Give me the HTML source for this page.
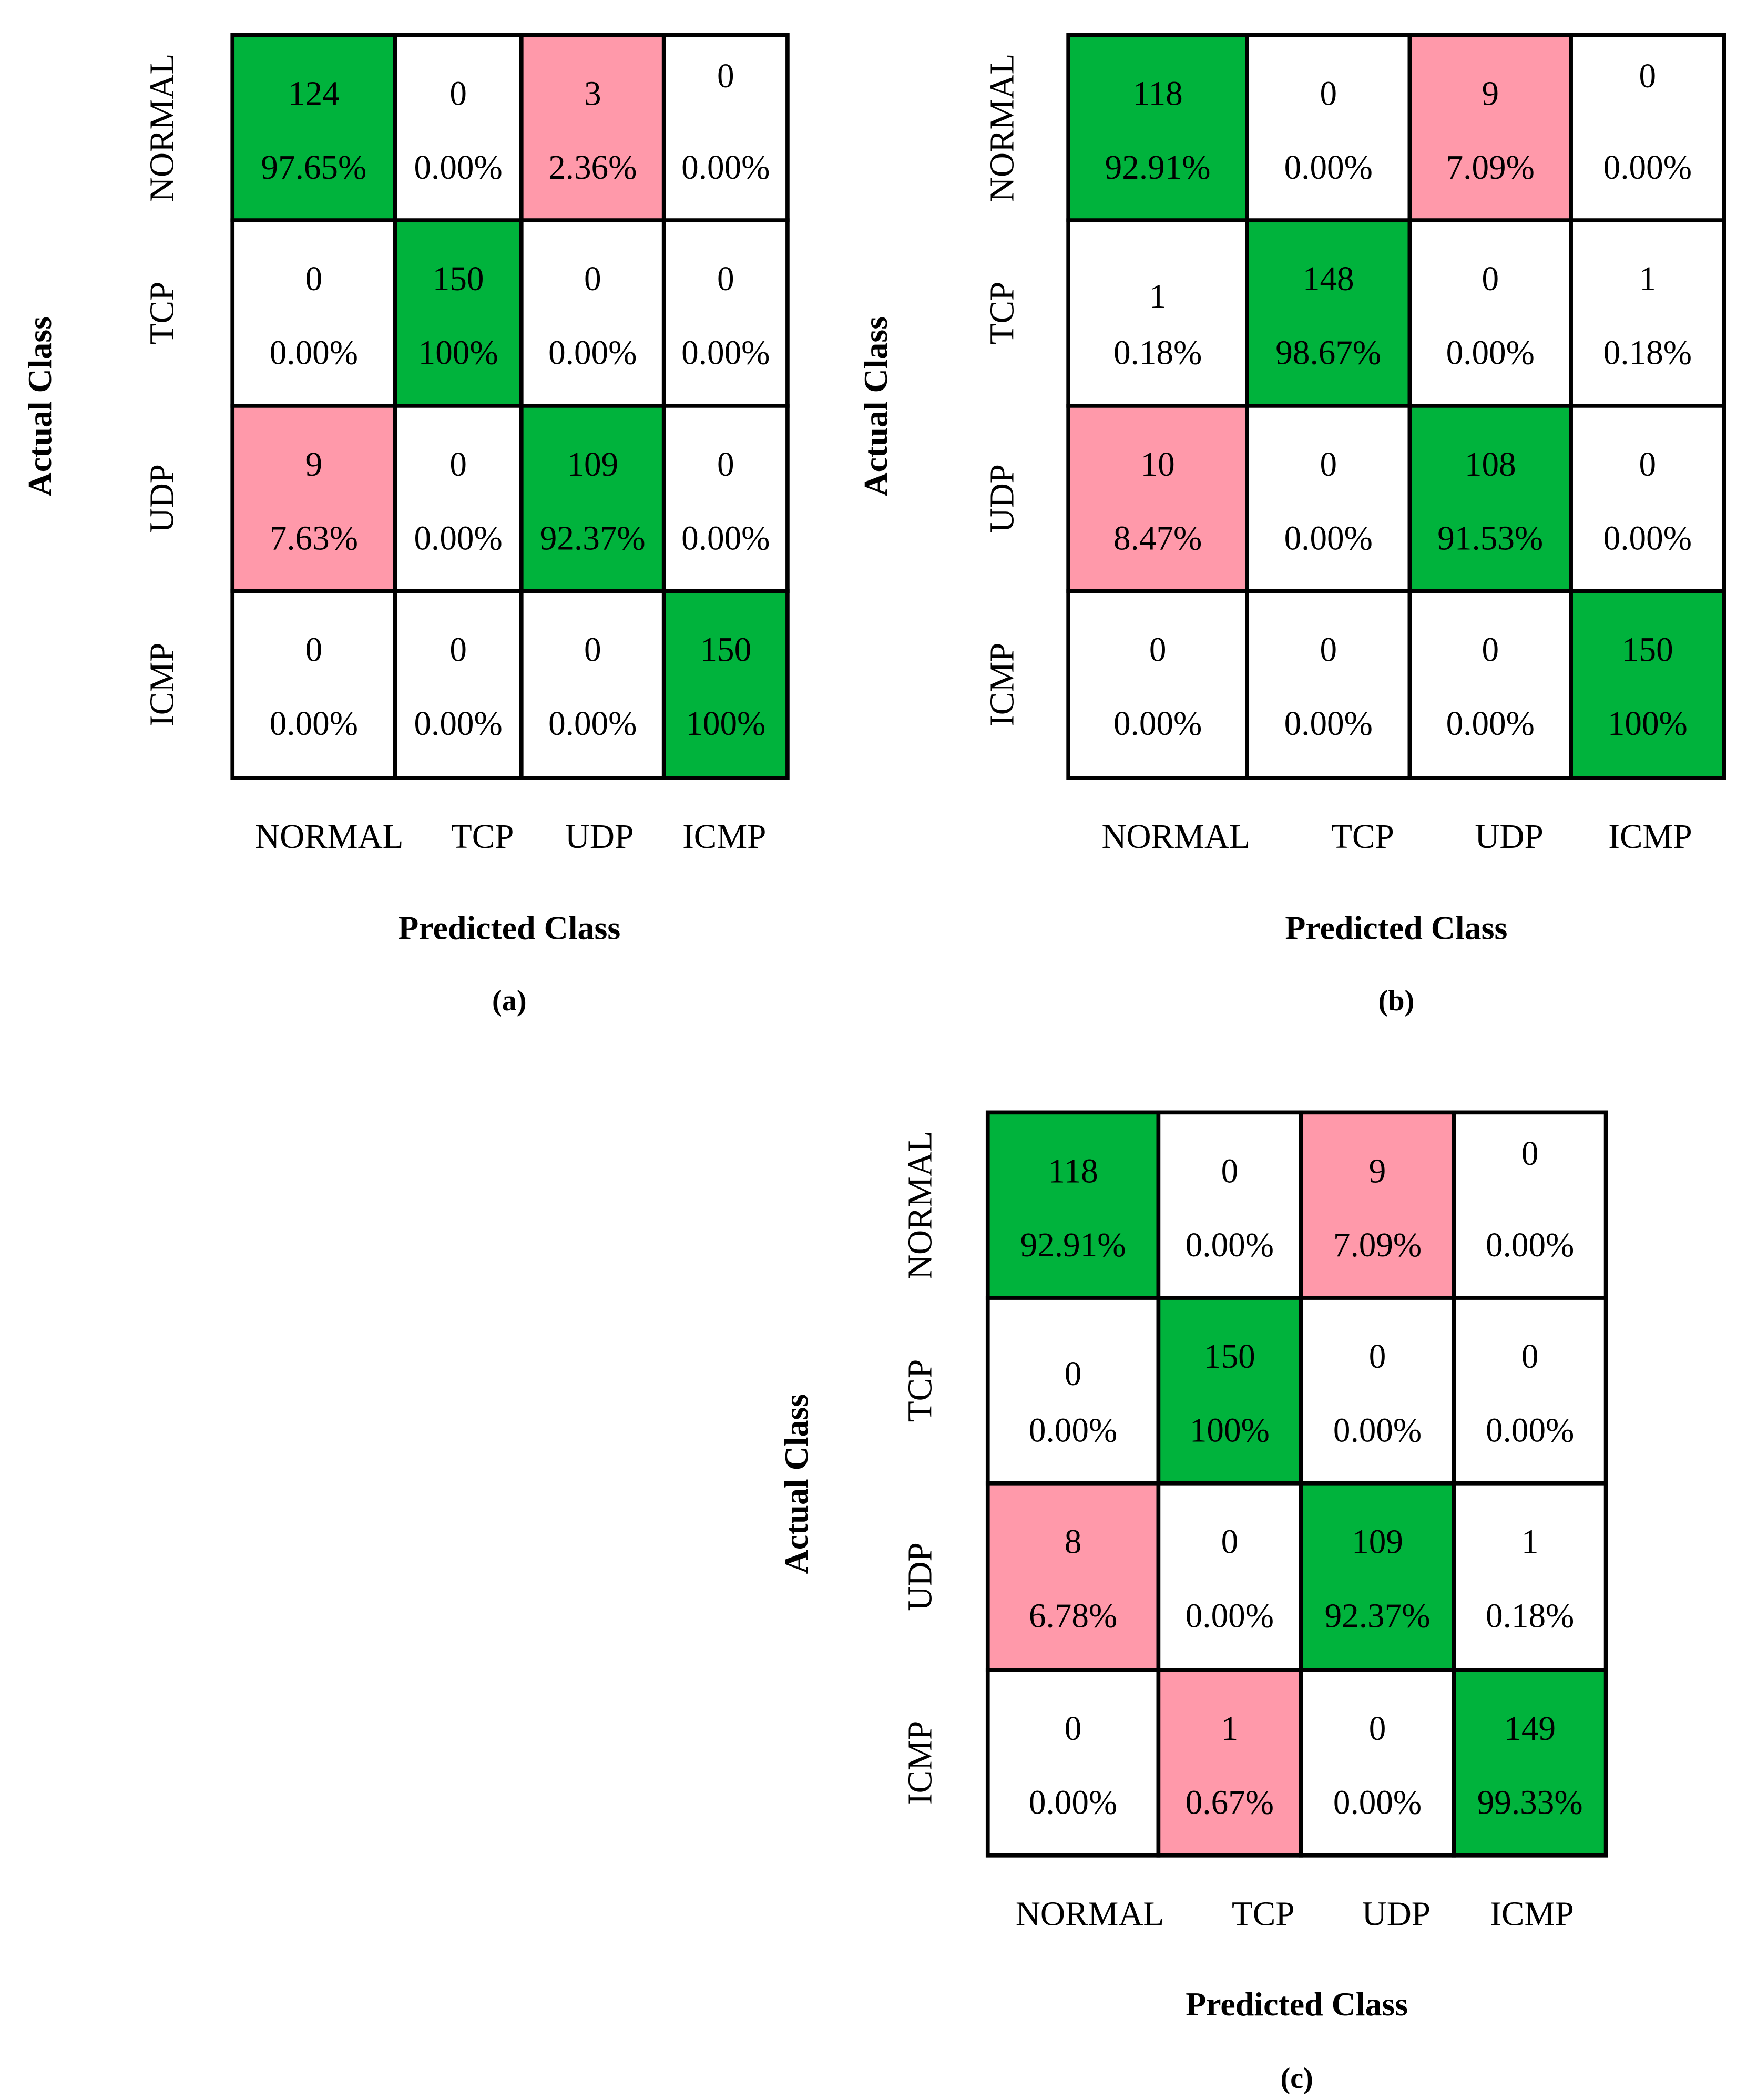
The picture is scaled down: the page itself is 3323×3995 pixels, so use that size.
<!DOCTYPE html>
<html><head><meta charset="utf-8"><style>
html,body{margin:0;padding:0;background:#fff;}
svg{display:block;}
text{font-family:"Liberation Serif",serif;fill:#000;}
</style></head><body>
<svg id="fig" width="3323" height="3995" viewBox="0 0 1300 1563" preserveAspectRatio="none" xmlns="http://www.w3.org/2000/svg"></svg>
<script>
const classes = ["NORMAL","TCP","UDP","ICMP"];
const countsA = [[124,0,3,0],[0,150,0,0],[9,0,109,0],[0,0,0,150]];
const pctA = [["97.65%","0.00%","2.36%","0.00%"],["0.00%","100%","0.00%","0.00%"],["7.63%","0.00%","92.37%","0.00%"],["0.00%","0.00%","0.00%","100%"]];
const pinkA = [[0,0,1,0],[0,0,0,0],[1,0,0,0],[0,0,0,0]];
const countsB = [[118,0,9,0],[1,148,0,1],[10,0,108,0],[0,0,0,150]];
const pctB = [["92.91%","0.00%","7.09%","0.00%"],["0.18%","98.67%","0.00%","0.18%"],["8.47%","0.00%","91.53%","0.00%"],["0.00%","0.00%","0.00%","100%"]];
const pinkB = [[0,0,1,0],[0,0,0,0],[1,0,0,0],[0,0,0,0]];
const countsC = [[118,0,9,0],[0,150,0,0],[8,0,109,1],[0,1,0,149]];
const pctC = [["92.91%","0.00%","7.09%","0.00%"],["0.00%","100%","0.00%","0.00%"],["6.78%","0.00%","92.37%","0.18%"],["0.00%","0.67%","0.00%","99.33%"]];
const pinkC = [[0,0,1,0],[0,0,0,0],[1,0,0,0],[0,1,0,0]];
const svg = document.getElementById('fig');
const NS = "http://www.w3.org/2000/svg";
function mk(tag, attrs, parent){const e=document.createElementNS(NS,tag);for(const k in attrs)e.setAttribute(k,attrs[k]);(parent||svg).appendChild(e);return e;}
function panel(id, counts, pcts, pink, cols, rows, xl, xlY, ylX, acX, pcY, capY, capX, capLabel, shifts){
  const g = mk('g',{});
  
  
  for(let r=0;r<4;r++)for(let c=0;c<4;c++){
    const v=counts[r][c];
    const fill = r===c ? '#00B33C' : (pink[r][c] ? '#FF99AA' : '#FFFFFF');
    const rc = mk('rect',{x:cols[c],y:rows[r],width:cols[c+1]-cols[c],height:rows[r+1]-rows[r],fill:fill,stroke:'#000','stroke-width':3},g);
    
    
    const cx=(cols[c]+cols[c+1])/2;
    const sh = (shifts[r+','+c]||0);
    const t1=mk('text',{x:cx,y:rows[r]+52+sh,'text-anchor':'middle','font-size':25.5},g);
    t1.textContent=v;
    
    
    const t2=mk('text',{x:cx,y:rows[r]+107,'text-anchor':'middle','font-size':25.5},g);
    t2.textContent=pcts[r][c];
    
    
  }
  for(let i=0;i<4;i++){
    const t=mk('text',{x:xl[i],y:xlY,'text-anchor':'middle','font-size':25.5},g);
    t.textContent=classes[i];
    
    
    const cy=(rows[i]+rows[i+1])/2;
    const ty=mk('text',{x:ylX,y:cy,'text-anchor':'middle','font-size':25.5,transform:'rotate(-90 '+ylX+' '+cy+')'},g);
    ty.textContent=classes[i];
    
    
  }
  const my=(rows[0]+rows[4])/2;
  const a=mk('text',{x:acX,y:my,'text-anchor':'middle','font-size':25,'font-weight':'bold',transform:'rotate(-90 '+acX+' '+my+')'},g);
  a.textContent='Actual Class';
  
  
  const p=mk('text',{x:capX,y:pcY,'text-anchor':'middle','font-size':25,'font-weight':'bold'},g);
  p.textContent='Predicted Class';
  
  
  const cp=mk('text',{x:capX,y:capY,'text-anchor':'middle','font-size':22,'font-weight':'bold'},g);
  cp.textContent=capLabel;
  
  
}
panel('a',countsA,pctA,pinkA,[173,294,388,494,586],[26,164,302,440,579],[245,359,446,539],631,129,38,699,752,379,'(a)',{'0,3':-13});
panel('b',countsB,pctB,pinkB,[795,928,1049,1169,1283],[26,164,302,440,579],[875,1014,1123,1228],631,754,660,699,752,1039,'(b)',{'0,3':-13,'1,0':13});
panel('c',countsC,pctC,pinkC,[735,862,968,1082,1195],[828,966,1104,1243,1381],[811,940,1039,1140],1433,693,601,1500,1554,965,'(c)',{'0,3':-13,'1,0':13});
</script>
</body></html>
